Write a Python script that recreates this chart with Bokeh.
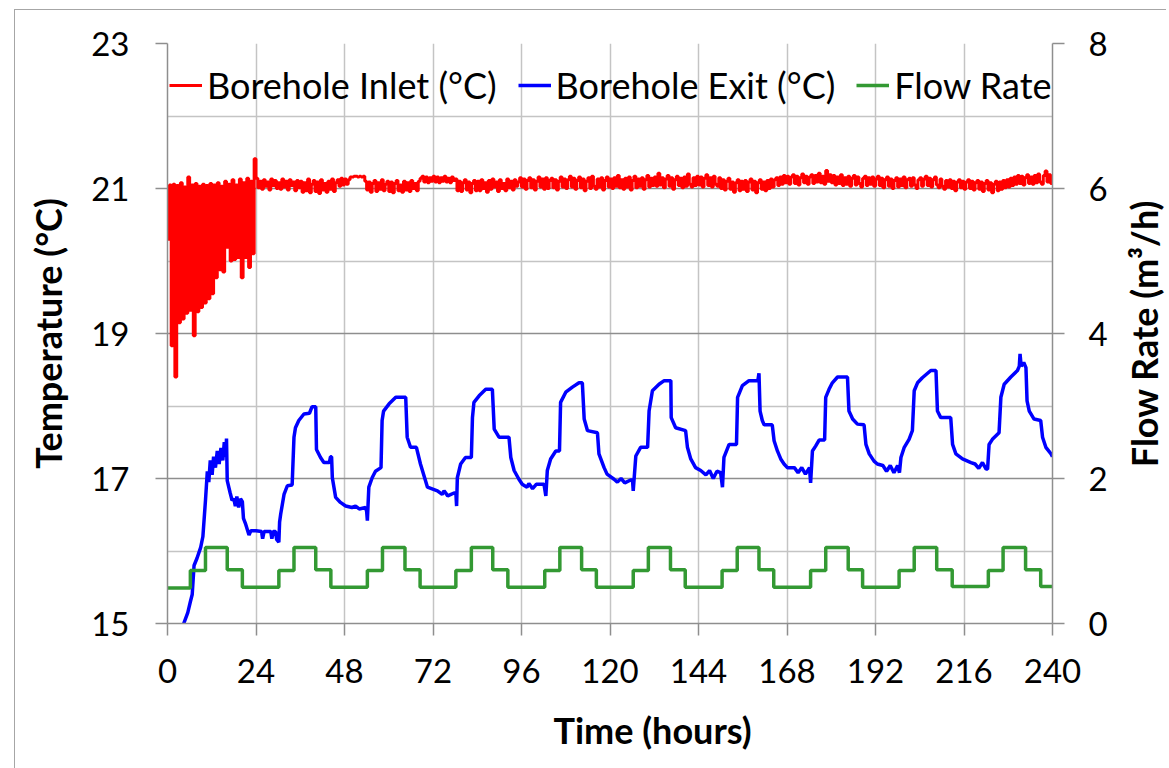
import math
from bokeh.plotting import figure
from bokeh.layouts import row
from bokeh.models import (Range1d, LinearAxis, FixedTicker, Legend, LegendItem, Title)
from bokeh.embed import file_html
from bokeh.resources import INLINE

# ---------------- data ----------------
hour_ticks = [0, 24, 48, 72, 96, 120, 144, 168, 192, 216, 240]
temp_ticks = [15, 17, 19, 21, 23]
temp_minor = [16, 18, 20, 22]
flow_ticks = [0, 2, 4, 6, 8]

# Borehole inlet temperature, half-hourly
inlet_v_day1 = [20.30, 21.05, 18.83, 21.06, 18.40, 21.04, 19.15, 21.08,
                19.20, 21.02, 19.28, 21.16, 19.32, 21.05, 18.97, 21.07,
                19.30, 21.03, 19.36, 21.06, 19.42, 21.04, 19.48, 21.07,
                19.55, 21.05, 19.77, 21.08, 19.88, 21.03, 19.85, 21.10,
                20.19, 21.06, 20.00, 21.12, 20.02, 21.05, 20.05, 21.13,
                19.77, 21.08, 20.05, 21.14, 19.91, 21.10, 20.10, 21.41]
inlet_v_rest = [
    21.14, 21.01, 21.10, 20.99, 21.12, 21.03, 21.09, 20.98, 21.13, 21.04, 21.11, 21.00,
    21.08, 20.99, 21.13, 21.02, 21.10, 20.98, 21.12, 21.04, 21.09, 20.97, 21.11, 21.01,
    21.10, 20.95, 21.08, 20.97, 21.13, 20.94, 21.06, 21.11, 20.96, 21.09, 20.93, 21.12,
    20.98, 21.07, 20.95, 21.10, 20.99, 21.13, 20.96, 21.08, 21.12, 21.03, 21.14, 21.05,
    21.13, 21.06, 21.12, 21.16, 21.16, 21.17, 21.17, 21.16, 21.17, 21.16, 21.17, 21.10,
    20.98, 21.09, 20.95, 21.07, 21.11, 20.96, 21.08, 20.99, 21.12, 20.97, 21.06, 21.10,
    20.96, 21.09, 20.94, 21.07, 21.11, 20.97, 21.05, 20.95, 21.10, 20.98, 21.08, 20.96,
    21.11, 21.00, 21.07, 20.97, 21.10, 21.14, 21.17, 21.09, 21.16, 21.08, 21.15, 21.10,
    21.17, 21.09, 21.16, 21.08, 21.15, 21.10, 21.17, 21.09, 21.14, 21.08, 21.16, 21.11,
    21.13, 20.97, 21.10, 20.96, 21.08, 21.12, 20.98, 21.09, 20.94, 21.07, 21.11, 20.97,
    21.10, 20.97, 21.12, 21.00, 21.08, 20.95, 21.11, 20.99, 21.13, 21.02, 21.09, 20.96,
    21.12, 21.00, 21.07, 20.97, 21.13, 21.01, 21.10, 20.98, 21.12, 21.03, 21.09, 21.15,
    21.02, 21.13, 20.99, 21.11, 21.15, 21.01, 21.12, 20.98, 21.10, 21.16, 21.02, 21.13,
    20.99, 21.15, 21.00, 21.11, 21.14, 21.01, 21.12, 20.98, 21.10, 21.16, 21.02, 21.13,
    21.00, 21.12, 21.17, 21.02, 21.14, 20.99, 21.11, 21.16, 21.01, 21.13, 20.97, 21.10,
    21.15, 21.00, 21.17, 21.03, 20.99, 21.13, 21.02, 21.15, 20.98, 21.11, 21.16, 21.02,
    21.13, 21.00, 21.15, 21.03, 21.18, 21.01, 21.12, 20.99, 21.14, 21.02, 21.16, 20.98,
    21.11, 21.17, 21.01, 21.13, 21.03, 21.15, 20.99, 21.12, 21.18, 21.02, 21.14, 21.04,
    21.16, 21.03, 21.21, 21.05, 21.15, 21.01, 21.13, 21.18, 21.03, 21.15, 20.99, 21.12,
    21.17, 21.04, 21.14, 21.01, 21.16, 21.03, 21.20, 21.06, 21.02, 21.15, 21.04, 21.17,
    21.05, 21.16, 21.02, 21.14, 21.19, 21.04, 21.15, 21.02, 21.17, 21.06, 21.03, 21.15,
    21.00, 21.12, 20.98, 21.10, 21.14, 20.99, 21.09, 20.95, 21.08, 21.12, 20.97, 21.10,
    20.99, 21.11, 20.96, 21.09, 21.13, 20.98, 21.10, 20.94, 21.08, 21.12, 20.99, 21.09,
    20.97, 21.11, 21.00, 21.13, 21.02, 21.12, 21.15, 21.04, 21.16, 21.06, 21.18, 21.08,
    21.17, 21.06, 21.16, 21.19, 21.07, 21.17, 21.05, 21.15, 21.20, 21.08, 21.17, 21.06,
    21.16, 21.19, 21.07, 21.18, 21.09, 21.21, 21.08, 21.17, 21.06, 21.25, 21.10, 21.19,
    21.08, 21.18, 21.05, 21.16, 21.07, 21.19, 21.04, 21.15, 21.06, 21.17, 21.03, 21.14,
    21.18, 21.05, 21.16, 21.07, 21.02, 21.14, 21.17, 21.04, 21.15, 21.06, 21.16, 21.03,
    21.13, 21.17, 21.04, 21.14, 21.01, 21.12, 21.16, 21.03, 21.13, 21.00, 21.11, 21.15,
    21.02, 21.13, 21.04, 21.16, 21.01, 21.12, 21.14, 21.03, 21.15, 21.05, 21.00, 21.12,
    21.15, 21.03, 21.13, 21.17, 21.04, 21.14, 21.02, 21.12, 21.16, 21.05, 21.01, 21.13,
    21.03, 20.99, 21.11, 21.02, 21.12, 21.00, 21.10, 20.97, 21.09, 21.12, 21.01, 21.10,
    20.99, 21.09, 21.12, 21.00, 21.10, 20.98, 21.08, 21.11, 20.99, 21.09, 20.96, 21.07,
    21.11, 20.98, 21.08, 20.94, 21.06, 21.10, 20.97, 21.09, 20.99, 21.11, 21.01, 21.12,
    21.02, 21.14, 21.04, 21.16, 21.06, 21.18, 21.07, 21.17, 21.05, 21.15, 21.19, 21.07,
    21.16, 21.06, 21.18, 21.08, 21.20, 21.09, 21.06, 21.18, 21.24, 21.09, 21.19, 21.07,
    21.14]
inlet_v = inlet_v_day1 + inlet_v_rest
inlet_t = [0.5 * i for i in range(len(inlet_v))]

exit_t = [2.5, 4.4, 5.5, 6.2, 6.7, 7.2, 8.0, 9.0, 9.6, 10.3, 10.8, 11.2, 11.6, 12.1,
          12.5, 13.0, 13.5, 14.0, 14.5, 15.0, 15.4, 15.8, 16.0, 16.2, 17.0, 17.5,
          18.0, 18.4, 18.8, 19.3, 19.8, 20.3, 20.6, 21.2, 22.1, 22.6, 24.0, 25.5,
          25.8, 26.2, 28.0, 28.3, 28.7, 29.3, 29.6, 30.2, 30.4, 30.7, 31.6, 32.5,
          33.8, 34.3, 34.7, 35.6, 37.0, 38.5, 39.2, 40.2, 40.4, 41.5, 42.4, 43.9,
          44.2, 44.5, 44.7, 45.6, 46.9, 48.3, 50.0, 51.0, 52.0, 53.7, 54.0, 54.2,
          54.6, 55.5, 56.4, 57.9, 58.2, 58.6, 60.1, 61.9, 64.6, 65.0, 65.9, 67.5,
          68.6, 70.5, 73.2, 74.5, 75.0, 76.0, 77.7, 78.2, 78.4, 78.6, 79.5, 80.8,
          82.4, 82.7, 83.1, 84.5, 86.3, 88.1, 88.6, 89.9, 92.6, 93.1, 94.0, 95.3,
          96.2, 97.5, 98.0, 99.0, 100.0, 102.1, 102.6, 103.0, 103.9, 105.3, 106.3, 106.6,
          108.0, 109.8, 111.6, 112.5, 113.0, 113.9, 116.6, 117.0, 118.4, 119.2, 121.1, 122.0,
          123.0, 124.0, 125.6, 126.1, 126.3, 127.0, 128.3, 130.2, 130.6, 131.5, 133.3, 134.7,
          136.5, 136.6, 137.8, 140.5, 141.0, 141.9, 143.2, 144.6, 146.0, 147.0, 148.0, 149.0,
          150.0, 150.5, 150.9, 152.3, 154.3, 154.6, 155.9, 157.7, 160.1, 160.4, 160.7, 161.3,
          161.8, 164.0, 164.5, 165.4, 166.3, 167.2, 168.1, 170.0, 171.0, 172.0, 173.0, 174.1,
          174.4, 174.9, 175.8, 176.7, 178.2, 178.5, 179.4, 180.3, 181.7, 184.4, 184.8, 185.8,
          187.1, 188.9, 189.4, 190.3, 191.6, 192.5, 194.0, 195.0, 196.0, 197.0, 198.0, 198.5,
          198.9, 199.8, 201.1, 202.0, 202.5, 203.4, 204.7, 207.0, 208.4, 208.8, 209.7, 212.4,
          212.9, 213.8, 215.6, 217.9, 219.0, 220.0, 221.0, 222.0, 222.4, 222.8, 223.7, 225.5,
          226.0, 226.9, 228.7, 230.5, 231.0, 231.2, 231.5, 232.2, 232.8, 233.1, 233.7, 235.0,
          236.8, 237.3, 238.2, 239.6, 240.0]
exit_v = [14.70, 15.00, 15.15, 15.30, 15.40, 15.80, 15.90, 16.05, 16.20, 16.70, 17.10, 16.95, 17.25, 17.05,
          17.30, 17.15, 17.38, 17.20, 17.42, 17.25, 17.50, 17.30, 17.55, 16.97, 16.80, 16.70,
          16.72, 16.62, 16.75, 16.60, 16.72, 16.68, 16.45, 16.37, 16.22, 16.28, 16.28, 16.27,
          16.17, 16.27, 16.27, 16.17, 16.27, 16.27, 16.16, 16.12, 16.40, 16.51, 16.78, 16.90,
          16.91, 17.57, 17.70, 17.80, 17.89, 17.90, 17.99, 17.99, 17.40, 17.29, 17.22, 17.22,
          17.30, 17.30, 17.01, 16.74, 16.67, 16.62, 16.60, 16.62, 16.58, 16.60, 16.55, 16.42,
          16.88, 17.01, 17.10, 17.15, 17.80, 17.93, 18.03, 18.12, 18.12, 17.57, 17.43, 17.43,
          17.20, 16.88, 16.83, 16.78, 16.83, 16.76, 16.80, 16.80, 16.62, 17.01, 17.20, 17.29,
          17.29, 17.84, 18.05, 18.14, 18.23, 18.23, 17.68, 17.57, 17.57, 17.29, 17.11, 16.99,
          16.92, 16.88, 16.93, 16.86, 16.92, 16.92, 16.76, 17.11, 17.27, 17.38, 17.38, 18.05,
          18.19, 18.26, 18.32, 18.32, 17.82, 17.66, 17.63, 17.34, 17.15, 17.06, 16.99, 16.95,
          17.00, 16.94, 16.98, 16.98, 16.83, 17.31, 17.43, 17.43, 17.93, 18.21, 18.30, 18.35,
          18.35, 17.84, 17.70, 17.66, 17.43, 17.27, 17.15, 17.11, 17.05, 17.11, 17.00, 17.10,
          17.08, 16.88, 17.29, 17.47, 17.47, 18.12, 18.28, 18.35, 18.35, 18.45, 17.93, 17.80,
          17.74, 17.74, 17.52, 17.38, 17.27, 17.20, 17.15, 17.15, 17.08, 17.15, 17.06, 17.15,
          16.94, 17.38, 17.45, 17.53, 17.53, 18.12, 18.23, 18.32, 18.40, 18.40, 17.93, 17.82,
          17.75, 17.74, 17.47, 17.34, 17.24, 17.20, 17.18, 17.10, 17.18, 17.08, 17.18, 17.08,
          17.29, 17.43, 17.54, 17.66, 18.21, 18.32, 18.39, 18.49, 18.49, 17.93, 17.84, 17.84,
          17.47, 17.34, 17.27, 17.22, 17.20, 17.14, 17.22, 17.13, 17.13, 17.47, 17.54, 17.63,
          18.12, 18.30, 18.40, 18.49, 18.55, 18.72, 18.55, 18.60, 18.53, 18.07, 17.93, 17.82,
          17.80, 17.57, 17.43, 17.34, 17.30]

# Flow rate (m3/h): change points of the stepped schedule
flow_t = [0, 6.2, 10.3, 16.2, 20.3,
          30.2, 34.3, 40.2, 44.3,
          54.2, 58.3, 64.4, 68.5,
          78.2, 82.4, 88.2, 92.3,
          102.3, 106.4, 112.3, 116.3,
          126.3, 130.4, 136.4, 140.4,
          150.4, 154.5, 160.4, 164.4,
          174.4, 178.5, 184.6, 188.5,
          198.4, 202.5, 208.6, 212.8,
          222.6, 226.6, 232.7, 236.8, 240]
flow_v = [0.49, 0.73, 1.05, 0.74, 0.50,
          0.73, 1.05, 0.74, 0.50,
          0.73, 1.05, 0.74, 0.50,
          0.73, 1.05, 0.74, 0.50,
          0.73, 1.05, 0.74, 0.50,
          0.73, 1.05, 0.74, 0.50,
          0.73, 1.05, 0.74, 0.50,
          0.73, 1.05, 0.74, 0.50,
          0.73, 1.05, 0.74, 0.51,
          0.73, 1.05, 0.74, 0.51, 0.51]

labels = ["Borehole Inlet (°C)", "Borehole Exit (°C)", "Flow Rate"]
colors = ["#ff0000", "#0000ff", "#339933"]
x_title = "Time (hours)"
y_title = "Temperature (°C)"
y2_title = "Flow Rate (m³/h)"

FONT = "Lato"

# ---------------- main figure ----------------
p = figure(frame_width=885, frame_height=580,
           x_range=Range1d(0, 240), y_range=Range1d(15, 23),
           output_backend="svg", toolbar_location=None,
           min_border_left=152, min_border_right=66,
           min_border_top=33, min_border_bottom=145)
p.extra_y_ranges = {"flow": Range1d(0, 8)}
p.background_fill_color = "white"
p.border_fill_color = "white"
p.outline_line_color = None

# grids
p.xgrid.ticker = FixedTicker(ticks=hour_ticks)
p.xgrid.grid_line_color = "#c4c4c4"
p.xgrid.grid_line_width = 1.5
p.ygrid.ticker = FixedTicker(ticks=temp_ticks, minor_ticks=temp_minor)
p.ygrid.grid_line_color = "#8e8e8e"
p.ygrid.grid_line_width = 1.5
p.ygrid.minor_grid_line_color = "#c4c4c4"
p.ygrid.minor_grid_line_width = 1.5


def style_axis(ax):
    ax.axis_line_color = "#8e8e8e"
    ax.axis_line_width = 1.5
    ax.major_tick_line_color = "#8e8e8e"
    ax.major_tick_line_width = 1.5
    ax.major_tick_out = 12
    ax.major_tick_in = 0
    ax.minor_tick_line_color = None
    ax.major_label_text_font = FONT
    ax.major_label_text_font_size = "33px"
    ax.major_label_text_color = "black"
    ax.axis_label_text_font = FONT
    ax.axis_label_text_font_size = "36px"
    ax.axis_label_text_font_style = "bold"
    ax.axis_label_text_color = "black"


xa = p.xaxis[0]
xa.ticker = FixedTicker(ticks=hour_ticks)
style_axis(xa)
xa.major_label_standoff = 23

ya = p.yaxis[0]
ya.ticker = FixedTicker(ticks=temp_ticks, minor_ticks=temp_minor)
ya.axis_label = y_title
style_axis(ya)
ya.major_label_standoff = 26
ya.axis_label_standoff = 18

yr = LinearAxis(y_range_name="flow", ticker=FixedTicker(ticks=flow_ticks))
style_axis(yr)
yr.major_label_standoff = 24
p.add_layout(yr, "right")

# x title: Excel centres it a bit right of the plot centre
p.add_layout(Title(text=" ", text_font_size="1px", standoff=15), "below")
p.add_layout(Title(text=x_title, align="left", offset=386, vertical_align="top",
                   standoff=8, text_font=FONT, text_font_size="36px",
                   text_font_style="bold", text_color="black"), "below")

# ---------------- series ----------------
r_in = p.step(inlet_t, inlet_v, mode="after", line_color=colors[0], line_width=3)
r_ex = p.line(exit_t, exit_v, line_color=colors[1], line_width=3.5)
r_fl = p.step(flow_t, flow_v, mode="after", line_color=colors[2], line_width=3.5,
              y_range_name="flow")

legend = Legend(items=[LegendItem(label=labels[0], renderers=[r_in]),
                       LegendItem(label=labels[1], renderers=[r_ex]),
                       LegendItem(label=labels[2], renderers=[r_fl])],
                orientation="horizontal", location=(2, 516),
                glyph_width=33, glyph_height=40, label_height=40,
                label_standoff=5, spacing=21, padding=0, margin=0,
                border_line_color=None, background_fill_alpha=0,
                label_text_font=FONT, label_text_font_size="36px",
                label_text_color="black")
p.add_layout(legend)

# ---------------- narrow strip holding the secondary-axis title ----------------
# (a left-side axis title reads bottom-to-top, as in the reference)
p2 = figure(frame_width=1, frame_height=580, output_backend="svg",
            toolbar_location=None, min_border_left=0, min_border_right=0,
            min_border_top=33, min_border_bottom=145,
            x_range=Range1d(0, 1), y_range=Range1d(0, 8))
p2.xaxis.visible = False
p2.xgrid.visible = False
p2.ygrid.visible = False
p2.outline_line_color = None
p2.background_fill_color = "white"
p2.border_fill_color = "white"
a2 = p2.yaxis[0]
a2.ticker = FixedTicker(ticks=[])
a2.axis_label = y2_title
a2.axis_line_color = None
a2.major_tick_out = 0
a2.major_tick_in = 0
a2.minor_tick_line_color = None
a2.major_label_standoff = 0
a2.axis_label_standoff = 0
a2.axis_label_text_font = FONT
a2.axis_label_text_font_size = "36px"
a2.axis_label_text_font_style = "bold"
a2.axis_label_text_color = "black"

layout = row(p, p2, spacing=0)
layout.styles = {"margin-left": "14px", "margin-top": "9px",
                 "border-left": "1px solid #a6a6a6", "border-top": "1px solid #a6a6a6"}

open("out.html", "w").write(file_html(layout, INLINE))
